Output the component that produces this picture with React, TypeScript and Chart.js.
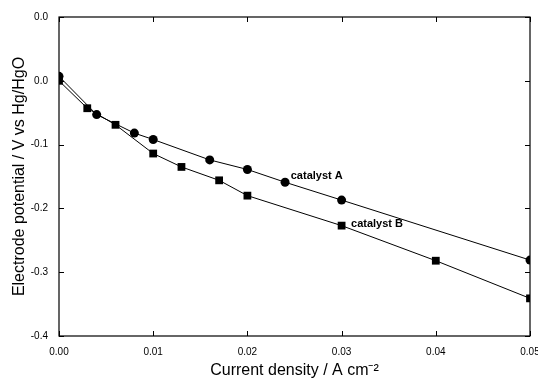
import React, { useEffect, useRef } from "react";
import { Chart, registerables } from "chart.js";

Chart.register(...registerables);

const catalystAX = [0, 0.004, 0.008, 0.010, 0.016, 0.020, 0.024, 0.030, 0.050];
const catalystAY = [0.007, -0.053, -0.082, -0.092, -0.124, -0.139, -0.159, -0.187, -0.281];
const catalystBX = [0, 0.003, 0.006, 0.010, 0.013, 0.017, 0.020, 0.030, 0.040, 0.050];
const catalystBY = [0.0, -0.043, -0.069, -0.114, -0.135, -0.156, -0.180, -0.227, -0.282, -0.341];

const xTickValues = [0, 0.01, 0.02, 0.03, 0.04, 0.05];
const xTickLabels = ["0.00", "0.01", "0.02", "0.03", "0.04", "0.05"];
const yTickValues = [0.1, 0.0, -0.1, -0.2, -0.3, -0.4];
const yTickLabels = ["0.0", "0.0", "-0.1", "-0.2", "-0.3", "-0.4"];

const seriesNames = ["catalyst A", "catalyst B"];
const annotationX = [0.0246, 0.031];
const annotationY = [-0.149, -0.2245];

const xTitle = "Current density / A cm\u207B\u00B2";
const yTitle = "Electrode potential / V vs Hg/HgO";

const FONT = "'Liberation Sans', Arial, Helvetica, sans-serif";

function labelFor(values: number[], labels: string[], v: number): string {
  for (let i = 0; i < values.length; i++) {
    if (Math.abs(values[i] - v) < 1e-9) return labels[i];
  }
  return "";
}

const framePlugin = {
  id: "framePlugin",
  afterDraw(chart: any) {
    const { ctx, chartArea, scales } = chart;
    const { left, right, top, bottom } = chartArea;
    ctx.save();
    ctx.strokeStyle = "#000";
    ctx.lineWidth = 1.2;
    ctx.strokeRect(left, top, right - left, bottom - top);
    ctx.lineWidth = 1;
    const tl = 5;
    ctx.beginPath();
    for (const v of xTickValues) {
      const px = Math.round(scales.x.getPixelForValue(v)) + 0.5;
      ctx.moveTo(px, bottom);
      ctx.lineTo(px, bottom - tl);
      ctx.moveTo(px, top);
      ctx.lineTo(px, top + tl);
    }
    for (const v of yTickValues) {
      const py = Math.round(scales.y.getPixelForValue(v)) + 0.5;
      ctx.moveTo(left, py);
      ctx.lineTo(left + tl, py);
      ctx.moveTo(right, py);
      ctx.lineTo(right - tl, py);
    }
    ctx.stroke();
    ctx.fillStyle = "#000";
    ctx.font = `bold 11px ${FONT}`;
    ctx.textBaseline = "middle";
    ctx.textAlign = "left";
    for (let i = 0; i < seriesNames.length; i++) {
      ctx.fillText(
        seriesNames[i],
        scales.x.getPixelForValue(annotationX[i]),
        scales.y.getPixelForValue(annotationY[i])
      );
    }
    ctx.restore();
  },
};

export default function App() {
  const ref = useRef<HTMLCanvasElement | null>(null);
  useEffect(() => {
    if (!ref.current) return;
    const chart = new Chart(ref.current, {
      type: "scatter",
      data: {
        datasets: [
          {
            label: seriesNames[0],
            data: catalystAX.map((x, i) => ({ x, y: catalystAY[i] })),
            showLine: true,
            borderColor: "#000",
            backgroundColor: "#000",
            borderWidth: 1,
            pointStyle: "circle",
            pointRadius: 4.5,
            pointBorderWidth: 0,
          },
          {
            label: seriesNames[1],
            data: catalystBX.map((x, i) => ({ x, y: catalystBY[i] })),
            showLine: true,
            borderColor: "#000",
            backgroundColor: "#000",
            borderWidth: 1,
            pointStyle: "rect",
            pointRadius: 5.5,
            pointBorderWidth: 0,
          },
        ],
      },
      options: {
        animation: false,
        responsive: false,
        layout: { padding: { top: 17, right: 8, left: 0, bottom: 0 } },
        plugins: { legend: { display: false }, tooltip: { enabled: false } },
        scales: {
          x: {
            type: "linear",
            min: 0,
            max: 0.05,
            afterFit: (s: any) => {
              s.height = 44;
              s.paddingLeft = 0;
              s.paddingRight = 0;
            },
            afterBuildTicks: (s: any) => {
              s.ticks = xTickValues.map((v) => ({ value: v }));
            },
            ticks: {
              color: "#000",
              padding: 10,
              maxRotation: 0,
              font: { family: FONT, size: 10 },
              callback: (v: any) => labelFor(xTickValues, xTickLabels, Number(v)),
            },
            grid: { display: false, drawTicks: false },
            border: { display: false },
            title: {
              display: true,
              text: xTitle,
              color: "#000",
              font: { family: FONT, size: 16 },
              padding: { top: 0, bottom: 0 },
            },
          },
          y: {
            type: "linear",
            min: -0.4,
            max: 0.1,
            afterFit: (s: any) => {
              s.width = 59;
              s.paddingTop = 0;
              s.paddingBottom = 0;
            },
            afterBuildTicks: (s: any) => {
              s.ticks = yTickValues.map((v) => ({ value: v }));
            },
            ticks: {
              color: "#000",
              padding: 11,
              font: { family: FONT, size: 10 },
              callback: (v: any) => labelFor(yTickValues, yTickLabels, Number(v)),
            },
            grid: { display: false, drawTicks: false },
            border: { display: false },
            title: {
              display: true,
              text: yTitle,
              color: "#000",
              font: { family: FONT, size: 16 },
              padding: { top: 10, bottom: 0 },
            },
          },
        },
      },
      plugins: [framePlugin],
    });
    return () => chart.destroy();
  }, []);
  return (
    <div style={{ position: "absolute", left: 0, top: 0, width: 538, height: 380, background: "#fff" }}>
      <canvas ref={ref} width={538} height={380} />
    </div>
  );
}
